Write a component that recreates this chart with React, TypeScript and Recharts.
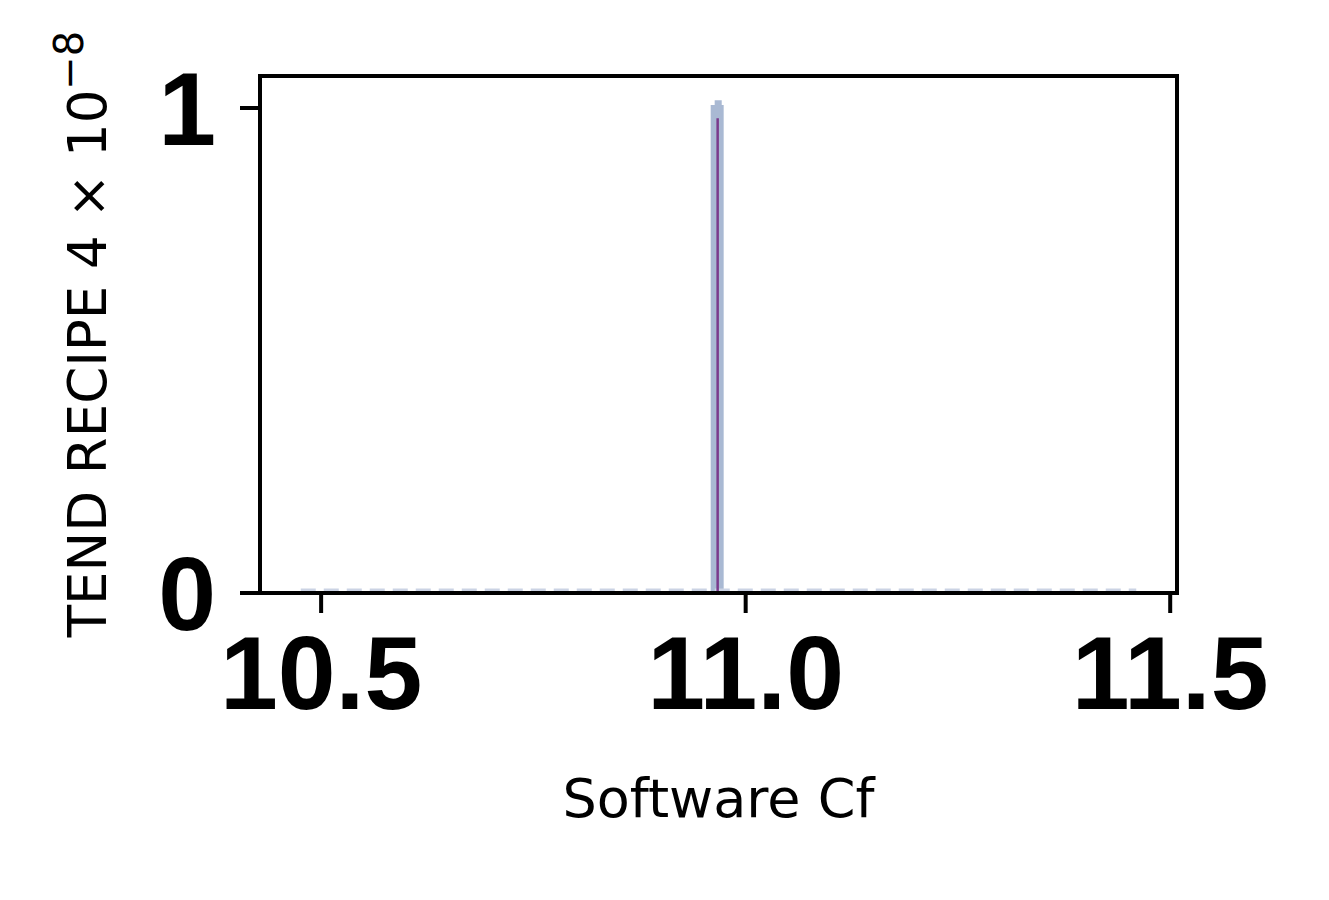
import React from "react";
import {
  ComposedChart,
  Area,
  Line,
  XAxis,
  YAxis,
  ReferenceArea,
} from "recharts";

const xTicks = [10.5, 11.0, 11.5];
const yTicks = [0, 1];
// histogram bin edges and heights
const binEdges = [10.9588, 10.9741];
const binHeight = [1.006, 1.006];
const capEdges = [10.9635, 10.9718];
const capHeight = [1.016, 1.016];
// density curve (collapsed to a spike)
const kdeX = [10.967, 10.967];
const kdeY = [0, 0.979];
// faint baseline of empty bins
const baseX = [10.476, 11.46];
const baseY = [0.006, 0.006];
const xDomain = [10.428, 11.508];
const yDomain = [0, 1.066];

type Row = { x: number; h?: number; c?: number; v?: number; b?: number };
const rows: Row[] = [
  ...baseX.map((x, i) => ({ x, b: baseY[i] })),
  ...binEdges.map((x, i) => ({ x, h: binHeight[i] })),
  ...capEdges.map((x, i) => ({ x, c: capHeight[i] })),
  ...kdeX.map((x, i) => ({ x, v: kdeY[i] })),
].sort((a, b) => a.x - b.x);

const tickFont = "'Liberation Sans', Arial, sans-serif";

const YLabel = () => (
  <text
    x={0}
    y={0}
    transform="translate(106, 334) rotate(-90)"
    textAnchor="middle"
    fontFamily="'DejaVu Sans', sans-serif"
    fontSize={53}
    fill="#000"
  >
    <tspan>TEND RECIPE 4 × 10</tspan>
    <tspan dy={-23} fontSize={40}>−8</tspan>
  </text>
);

export default function App() {
  return (
    <div style={{ position: "absolute", left: 0, top: 0, background: "#fff" }}>
      <ComposedChart
        width={1329}
        height={900}
        data={rows}
        margin={{ top: 76, right: 152, bottom: 0, left: 0 }}
      >
        <XAxis
          dataKey="x"
          type="number"
          domain={xDomain}
          ticks={xTicks}
          tickFormatter={(v: number) => v.toFixed(1)}
          allowDataOverflow
          height={307}
          stroke="#000"
          strokeWidth={4}
          axisLine={{ stroke: "#000", strokeWidth: 4 }}
          tickLine={{ stroke: "#000", strokeWidth: 4 }}
          tickSize={20}
          tickMargin={22}
          tick={{ fontSize: 104, fontWeight: 700, fill: "#000", fontFamily: tickFont, strokeWidth: 0 }}
          label={{
            value: "Software Cf",
            position: "insideTop",
            offset: 186,
            fontSize: 54,
            fill: "#000",
            fontFamily: "'DejaVu Sans', sans-serif",
          }}
        />
        <YAxis
          type="number"
          domain={yDomain}
          ticks={yTicks}
          allowDataOverflow
          width={260}
          stroke="#000"
          strokeWidth={4}
          axisLine={{ stroke: "#000", strokeWidth: 4 }}
          tickLine={{ stroke: "#000", strokeWidth: 4 }}
          tickSize={20}
          tickMargin={24}
          tick={{ fontSize: 104, fontWeight: 700, fill: "#000", fontFamily: tickFont, strokeWidth: 0 }}
          label={{ content: () => <YLabel /> }}
        />
        <Line
          dataKey="b"
          stroke="#cbd3e4"
          strokeWidth={3}
          strokeDasharray="15 8"
          dot={false}
          activeDot={false}
          connectNulls
          isAnimationActive={false}
        />
        <Area
          dataKey="h"
          type="linear"
          baseValue={0}
          fill="#a9b9d3"
          fillOpacity={1}
          stroke="none"
          dot={false}
          activeDot={false}
          connectNulls
          isAnimationActive={false}
        />
        <Area
          dataKey="c"
          type="linear"
          baseValue={0}
          fill="#a9b9d3"
          fillOpacity={1}
          stroke="none"
          dot={false}
          activeDot={false}
          connectNulls
          isAnimationActive={false}
        />
        <Line
          dataKey="v"
          stroke="#7a3a8c"
          strokeWidth={2.5}
          dot={false}
          activeDot={false}
          connectNulls
          isAnimationActive={false}
        />
        <ReferenceArea
          x1={xDomain[0]}
          x2={xDomain[1]}
          y1={yDomain[0]}
          y2={yDomain[1]}
          fill="none"
          fillOpacity={0}
          stroke="#000"
          strokeWidth={4}
          ifOverflow="visible"
        />
      </ComposedChart>
    </div>
  );
}
